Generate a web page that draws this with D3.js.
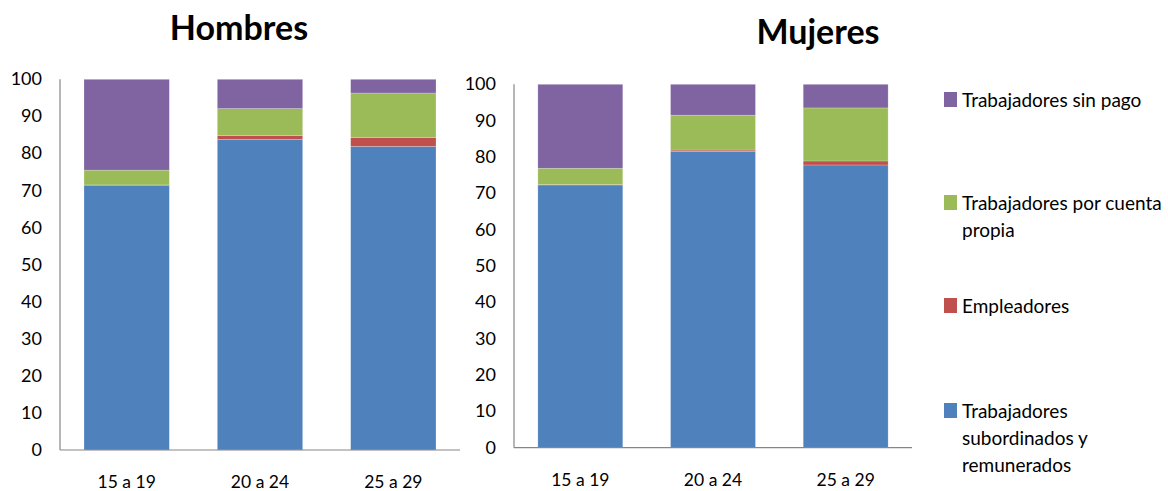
<!DOCTYPE html>
<html>
<head>
<meta charset="utf-8">
<script src="https://cdn.jsdelivr.net/npm/d3@7"></script>
<style>
  body { margin: 0; background: #fff; }
  svg { font-family: Lato, "Open Sans", sans-serif; }
</style>
</head>
<body>
<svg id="chart" width="1168" height="491"></svg>
<script>
// categories
const ageGroups = ['15 a 19', '20 a 24', '25 a 29'];
const seriesNames = ['Trabajadores subordinados y remunerados', 'Empleadores', 'Trabajadores por cuenta propia', 'Trabajadores sin pago'];
const seriesColors = ['#4F81BD', '#C0504D', '#9BBB59', '#8064A2'];
const yTicks = [0, 10, 20, 30, 40, 50, 60, 70, 80, 90, 100];

// Hombres values (per age group)
const hombresSubordinados = [71.3, 83.8, 81.9];
const hombresEmpleadores = [0.2, 1.0, 2.4];
const hombresCuentaPropia = [4.0, 7.3, 12.0];
const hombresSinPago = [24.5, 7.9, 3.7];

// Mujeres values
const mujeresSubordinados = [72.3, 81.5, 77.8];
const mujeresEmpleadores = [0.1, 0.4, 1.1];
const mujeresCuentaPropia = [4.5, 9.6, 14.6];
const mujeresSinPago = [23.1, 8.5, 6.5];

const svg = d3.select('#chart');

function drawPanel(cfg, series) {
  const g = svg.append('g');
  let rows = ageGroups.map((a, i) => {
    let r = { age: a };
    seriesNames.forEach((s, j) => r[s] = series[j][i]);
    return r;
  });
  let stack = d3.stack().keys(seriesNames)(rows);

  let x = d3.scaleBand().domain(ageGroups).range([cfg.left, cfg.right]).paddingInner(0.36).paddingOuter(0.18);
  let y = d3.scaleLinear().domain([0, 100]).range([cfg.bottom, cfg.top]);

  stack.forEach((layer, j) => {
    g.selectAll(null).data(layer).enter().append('rect')
      .attr('x', d => x(d.data.age))
      .attr('width', x.bandwidth())
      .attr('y', d => y(d[1]))
      .attr('height', d => y(d[0]) - y(d[1]))
      .attr('fill', seriesColors[j])
      .attr('stroke', 'rgba(255,255,255,0.35)')
      .attr('stroke-width', 0.6);
  });

  // axes lines
  g.append('line')
    .attr('x1', cfg.left).attr('x2', cfg.left)
    .attr('y1', y(100)).attr('y2', y(0))
    .attr('stroke', '#868686').attr('stroke-width', 1.2);
  g.append('line')
    .attr('x1', cfg.left).attr('x2', cfg.right)
    .attr('y1', y(0)).attr('y2', y(0))
    .attr('stroke', '#868686').attr('stroke-width', 1.2);

  g.selectAll(null).data(yTicks).enter().append('text')
    .attr('x', cfg.labelX)
    .attr('y', d => y(d) + 6)
    .attr('text-anchor', 'end')
    .style('font-size', '18px')
    .attr('fill', '#000')
    .text(d => d);

  g.selectAll(null).data(ageGroups).enter().append('text')
    .attr('x', d => x(d) + x.bandwidth() / 2)
    .attr('y', cfg.bottom + 38)
    .attr('text-anchor', 'middle')
    .style('font-size', '17.5px')
    .text(d => d);

  g.append('text')
    .attr('x', cfg.titleX)
    .attr('y', cfg.titleY)
    .attr('text-anchor', 'middle')
    .style('font-size', '34px')
    .style('font-weight', 'bold')
    .text(cfg.title);
}

drawPanel({ left: 60, right: 460, top: 79.3, bottom: 450, labelX: 42, title: 'Hombres', titleX: 239, titleY: 40 },
  [hombresSubordinados, hombresEmpleadores, hombresCuentaPropia, hombresSinPago]);
drawPanel({ left: 514, right: 912, top: 84.3, bottom: 447.7, labelX: 496, title: 'Mujeres', titleX: 818, titleY: 44 },
  [mujeresSubordinados, mujeresEmpleadores, mujeresCuentaPropia, mujeresSinPago]);

// legend
const legendItems = [
  { name: seriesNames[3], color: seriesColors[3], lines: ['Trabajadores sin pago'], y: 107 },
  { name: seriesNames[2], color: seriesColors[2], lines: ['Trabajadores por cuenta', 'propia'], y: 210 },
  { name: seriesNames[1], color: seriesColors[1], lines: ['Empleadores'], y: 313 },
  { name: seriesNames[0], color: seriesColors[0], lines: ['Trabajadores', 'subordinados y', 'remunerados'], y: 418 }
];
const lg = svg.append('g');
legendItems.forEach(it => {
  lg.append('rect').attr('x', 944).attr('y', it.y - 15).attr('width', 13).attr('height', 15).attr('fill', it.color);
  let t = lg.append('text').attr('x', 962).attr('y', it.y).style('font-size', '19px');
  it.lines.forEach((l, i) => t.append('tspan').attr('x', 962).attr('dy', i ? 27 : 0).text(l));
});
</script>
</body>
</html>
